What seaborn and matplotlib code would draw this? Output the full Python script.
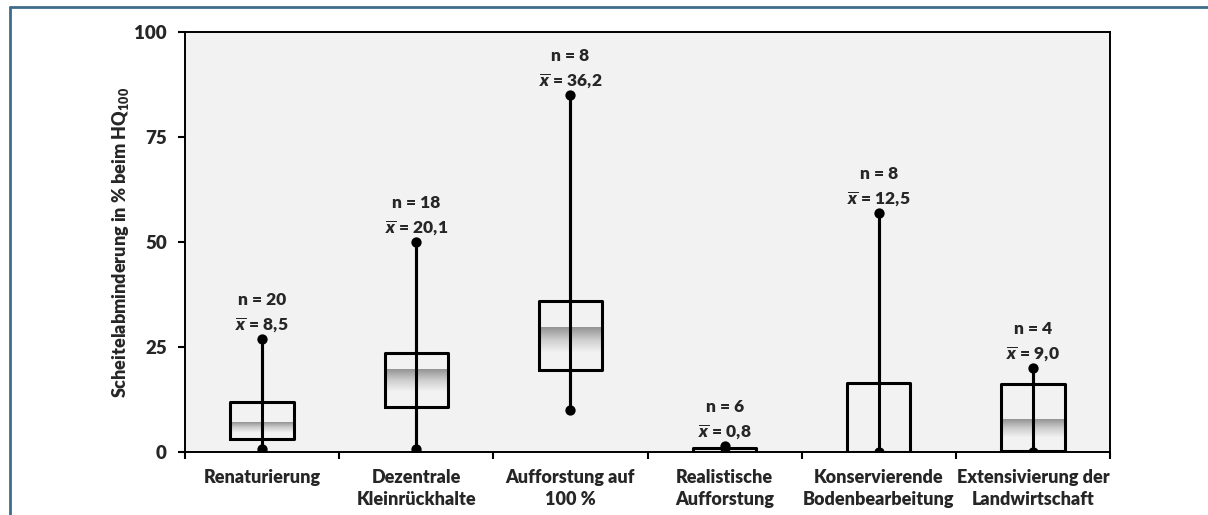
import numpy as np
import pandas as pd
import seaborn as sns
import matplotlib.pyplot as plt
from matplotlib.colors import LinearSegmentedColormap
from matplotlib.lines import Line2D

# Five-number summaries per measure (percent reduction of the HQ100 peak)
categories = [
    "Renaturierung",
    "Dezentrale\nKleinrückhalte",
    "Aufforstung auf\n100 %",
    "Realistische\nAufforstung",
    "Konservierende\nBodenbearbeitung",
    "Extensivierung der\nLandwirtschaft",
]
minimum = [0.7, 0.7, 10.0, 0.0, 0.0, 0.0]
q1 = [3.0, 10.7, 19.6, 0.1, 0.0, 0.3]
median = [7.0, 19.8, 29.8, 0.4, 0.0, 7.6]
q3 = [12.0, 23.6, 36.0, 0.9, 16.4, 16.2]
maximum = [27.0, 50.0, 85.0, 1.4, 57.0, 20.0]
n_values = [20, 18, 8, 6, 8, 4]
means = [8.5, 20.1, 36.2, 0.8, 12.5, 9.0]

WEIGHT = 800

sns.set_style("white")
plt.rcParams["font.family"] = ["Lato", "DejaVu Sans"]
plt.rcParams["font.weight"] = WEIGHT
plt.rcParams["mathtext.fontset"] = "custom"
plt.rcParams["mathtext.rm"] = "Lato:heavy"
plt.rcParams["mathtext.it"] = "Lato:italic:heavy"
plt.rcParams["mathtext.bf"] = "Lato:heavy"

# Long table: the five summary values of each measure reproduce its quartiles exactly
rows = []
for cat, a, b, c, d, e in zip(categories, minimum, q1, median, q3, maximum):
    for v in (a, b, c, d, e):
        rows.append({"Maßnahme": cat, "Wert": v})
df = pd.DataFrame(rows)

fig = plt.figure(figsize=(12.08, 5.15), dpi=100)
ax = fig.add_axes([185 / 1208, 1 - 452 / 515, 925 / 1208, 420 / 515])
ax.set_facecolor("#f2f2f2")

box_w = 0.41
lw = 2.2
sns.boxplot(
    data=df, x="Maßnahme", y="Wert", order=categories,
    whis=(0, 100), showcaps=False, showfliers=False, fill=False,
    color="black", linecolor="black", linewidth=lw, width=box_w,
    medianprops={"linewidth": 0}, ax=ax,
)

pos = np.arange(len(categories))

# Shaded median band: dark at the median, fading downwards
cmap = LinearSegmentedColormap.from_list(
    "medfade", [(0.0, "#f4f4f4"), (0.5, "#cfcfcf"), (1.0, "#939393")]
)
grad = np.linspace(0, 1, 256).reshape(-1, 1)
for x, lo, med in zip(pos, q1, median):
    if med - lo > 0.5:
        depth = 0.6 * (med - lo)
        ax.imshow(grad, extent=(x - box_w / 2, x + box_w / 2, med - depth, med),
                  origin="lower", aspect="auto", cmap=cmap, zorder=1.5,
                  interpolation="bilinear")

# Whisker line through the whole box, with dots at both ends
ax.vlines(pos, minimum, maximum, colors="black", linewidth=lw, zorder=3)
ends = pd.DataFrame({"pos": np.concatenate([pos, pos]),
                     "val": np.concatenate([minimum, maximum])})
sns.scatterplot(data=ends, x="pos", y="val", color="black", s=55,
                linewidth=0, zorder=4, ax=ax, legend=False)

# Sample size and mean above each top whisker
for x, top, n, m in zip(pos, maximum, n_values, means):
    ax.annotate(f"n = {n}", (x, top), xytext=(0, 24.5), textcoords="offset points",
                ha="center", va="baseline", fontsize=12.5, fontweight=WEIGHT)
    ax.annotate(r"$\overline{x}$ = " + f"{m:.1f}".replace(".", ","), (x, top),
                xytext=(0, 6.5), textcoords="offset points",
                ha="center", va="baseline", fontsize=12.5, fontweight=WEIGHT)

ax.set_xlim(-0.5, len(categories) - 0.5)
ax.set_ylim(0, 100)
ax.set_yticks([0, 25, 50, 75, 100])
ax.set_xticks(pos)
ax.set_xticklabels(categories, fontsize=13, fontweight=WEIGHT, linespacing=1.35)
ax.set_xticks(np.arange(-0.5, len(categories), 1.0), minor=True)
ax.tick_params(axis="x", which="major", length=0, pad=12)
ax.tick_params(axis="x", which="minor", length=5, width=1.5, color="black",
               direction="out", bottom=True)
ax.tick_params(axis="y", length=5, width=1.5, color="black", direction="out",
               left=True, pad=8, labelsize=13.5)
for lab in ax.get_yticklabels():
    lab.set_fontweight(WEIGHT)
ax.set_xlabel("")
ax.set_ylabel("Scheitelabminderung in % beim HQ$_{100}$", fontsize=13,
              fontweight=WEIGHT)
ax.yaxis.set_label_coords(-0.058, 0.5)
for sp in ax.spines.values():
    sp.set_visible(True)
    sp.set_color("black")
    sp.set_linewidth(1.4)

# Blue-grey frame along the top and left edge of the figure
frame_col = "#3f6c8b"
fig.add_artist(Line2D([10 / 1208, 1.0], [1 - 7 / 515, 1 - 7 / 515],
                      transform=fig.transFigure, color=frame_col, linewidth=2.0))
fig.add_artist(Line2D([10 / 1208, 10 / 1208], [0.0, 1 - 7 / 515],
                      transform=fig.transFigure, color=frame_col, linewidth=2.0))

fig.savefig("out.png", dpi=100)
